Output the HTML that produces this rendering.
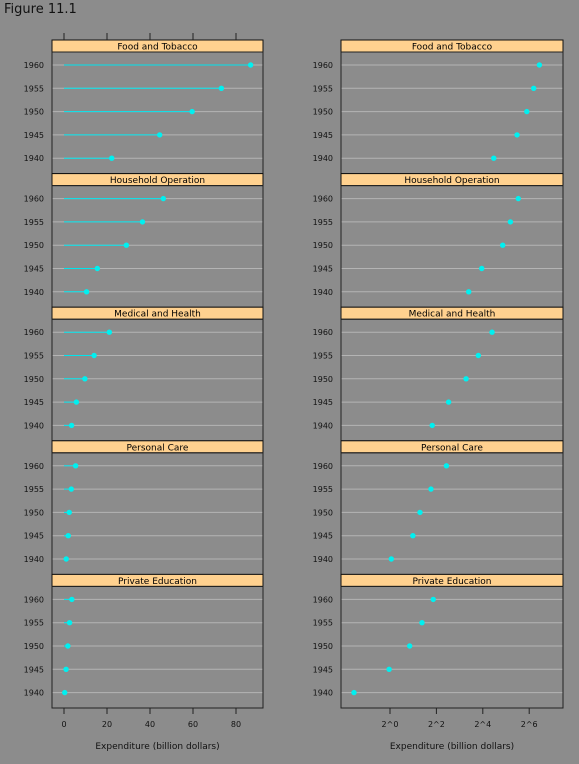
<!DOCTYPE html>
<html><head><meta charset="utf-8"><style>
body{margin:0;background:#8c8c8c;}
svg{display:block;font-family:"DejaVu Sans","Liberation Sans",sans-serif;}
</style></head><body>
<svg id="c" width="579" height="764" viewBox="0 0 579 764">
<text x="4" y="13" font-size="13" fill="#111">Figure 11.1</text>
</svg>
<script>
const categories=["Food and Tobacco","Household Operation","Medical and Health","Personal Care","Private Education"];
const years=["1940","1945","1950","1955","1960"];
const values=[[22.2,44.5,59.6,73.2,86.8],[10.5,15.5,29.0,36.5,46.2],[3.53,5.76,9.71,14.0,21.1],[1.04,1.98,2.45,3.4,5.4],[0.341,0.974,1.8,2.6,3.64]];
const linTicks=[0,20,40,60,80];
const logTicks=[0,2,4,6];
const NS="http://www.w3.org/2000/svg";
const svg=document.getElementById('c');
function mk(t,a,p){const e=document.createElementNS(NS,t);for(const k in a)e.setAttribute(k,a[k]);(p||svg).appendChild(e);return e;}
const xLin=v=>64+v*2.15;
const xLog=v=>390+Math.log2(v)*23.2;
const panels=[{x0:52,x1:263,sx:xLin,lin:true},{x0:341,x1:563,sx:xLog,lin:false}];
const top0=40,period=133.6,stripH=12;
const rowY=(p,j)=>top0+p*period+stripH+13+(4-j)*23.3;
panels.forEach((P,pi)=>{
  categories.forEach((cat,ci)=>{
    const y0=top0+ci*period;
    const g=mk('g',{});
    
    
    mk('rect',{x:P.x0,y:y0,width:P.x1-P.x0,height:stripH,fill:'#ffd18f',stroke:'#111','stroke-width':1},g);
    const st=mk('text',{x:(P.x0+P.x1)/2,y:y0+9.5,'font-size':9,'text-anchor':'middle',fill:'#000'},g);
    st.textContent=cat;
    
    
    years.forEach((yr,j)=>{
      const y=rowY(ci,j);
      mk('line',{x1:P.x0,x2:P.x1,y1:y,y2:y,stroke:'#b4b4b4','stroke-width':1},g);
      const t=mk('text',{x:P.x0-8,y:y+3,'font-size':8,'text-anchor':'end',fill:'#111'},g);
      t.textContent=yr;
      const v=values[ci][j];
      if(P.lin){const l=mk('line',{x1:xLin(0),x2:xLin(v),y1:y,y2:y,stroke:'#00e5ee','stroke-width':1},g);
        }
      const d=mk('circle',{cx:P.sx(v),cy:y,r:2.7,fill:'#00f0f0'},g);
      
      
    });
    mk('rect',{x:P.x0,y:y0+stripH,width:P.x1-P.x0,height:period-stripH,fill:'none',stroke:'#222','stroke-width':1},g);
  });
  const yb=top0+5*period;
  const ticks=P.lin?linTicks:logTicks;
  ticks.forEach(t=>{
    const x=P.lin?xLin(t):390+t*23.2;
    mk('line',{x1:x,x2:x,y1:yb,y2:yb+6,stroke:'#222'});
    if(P.lin)mk('line',{x1:x,x2:x,y1:top0-7,y2:top0,stroke:'#222'});
    const tx=mk('text',{x:x,y:yb+19,'font-size':8,'text-anchor':'middle',fill:'#111'});
    tx.textContent=P.lin?String(t):'2^'+t;
    
    
  });
  const xl=mk('text',{x:(P.x0+P.x1)/2,y:749,'font-size':9,'text-anchor':'middle',fill:'#111'});
  xl.textContent='Expenditure (billion dollars)';
  
  
});
</script>
</body></html>
